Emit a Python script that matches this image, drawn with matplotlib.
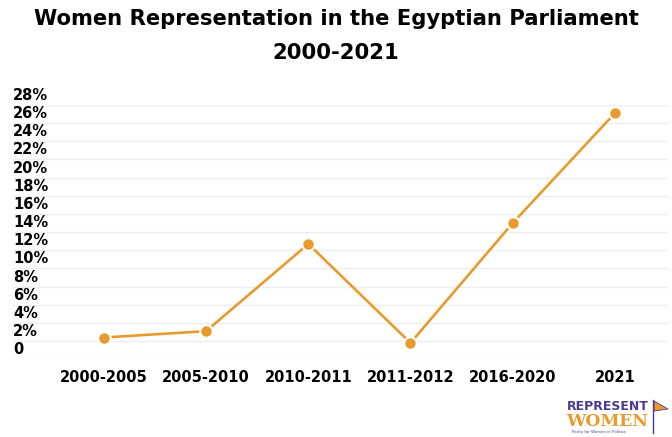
import matplotlib.pyplot as plt
import matplotlib.transforms as mtransforms

PERIODS = ["2000-2005", "2005-2010", "2010-2011", "2011-2012", "2016-2020", "2021"]
WOMEN_SHARE = [2.4, 3.1, 12.7, 1.8, 15.0, 27.1]
Y_TICKS = list(range(0, 30, 2))
Y_LABELS = ["0"] + [f"{v}%" for v in Y_TICKS[1:]]

ORANGE = "#E99A2C"
PURPLE = "#4A3B8F"

plt.rcParams["font.family"] = ["DejaVu Sans"]

fig = plt.figure(figsize=(6.72, 4.37), dpi=100)
ax = fig.add_axes([13 / 672, 1 - 359.3 / 437, 655 / 672, (359.3 - 105) / 437])

x = list(range(len(PERIODS)))
ax.plot(x, WOMEN_SHARE, color=ORANGE, linewidth=1.9, marker="o", markersize=9,
        markerfacecolor=ORANGE, markeredgecolor="white", markeredgewidth=1.5,
        clip_on=False, zorder=3)

ax.set_xlim(-0.89, 5.52)
ax.set_ylim(0, 28)
ax.set_yticks(Y_TICKS)
ax.set_yticklabels([])
ax.tick_params(axis="y", length=0)
ax.grid(axis="y", color="#eeeeee", linewidth=1)
ax.set_axisbelow(True)
for s in ax.spines.values():
    s.set_visible(False)

ax.set_xticks(x)
ax.set_xticklabels(PERIODS, fontsize=10.5, fontweight="bold")
ax.tick_params(axis="x", length=0, pad=8)

# y labels sit just above their grid lines
trans = mtransforms.blended_transform_factory(ax.transAxes, ax.transData)
trans = trans + mtransforms.ScaledTranslation(0, 1.5 / 72, fig.dpi_scale_trans)
for v, lab in zip(Y_TICKS, Y_LABELS):
    ax.text(0, v, lab, transform=trans, ha="left", va="bottom",
            fontsize=10.5, fontweight="bold")

fig.text(0.5, 1 - 19 / 437, "Women Representation in the Egyptian Parliament",
         ha="center", va="center", fontsize=15.2, fontweight="bold")
fig.text(0.5, 1 - 53 / 437, "2000-2021", ha="center", va="center",
         fontsize=15.2, fontweight="bold")

# logo
fig.text(567 / 672, 1 - 406 / 437, "REPRESENT", ha="left", va="center",
         fontsize=9, fontweight="bold", color=PURPLE)
fig.text(566 / 672, 1 - 421 / 437, "WOMEN", ha="left", va="center",
         fontsize=12.3, fontweight="bold", color=ORANGE, family="DejaVu Serif")
fig.text(572 / 672, 1 - 432 / 437, "Parity for Women in Politics", ha="left",
         va="center", fontsize=2.8, color=PURPLE)
fig.add_artist(plt.Line2D([653 / 672, 653 / 672], [1 - 400 / 437, 1 - 433 / 437],
                          color=PURPLE, linewidth=1))
fig.add_artist(plt.Polygon([[654 / 672, 1 - 401 / 437], [668 / 672, 1 - 409 / 437],
                            [654 / 672, 1 - 411 / 437]], closed=True,
                           facecolor=ORANGE, edgecolor=PURPLE, linewidth=0.6))

fig.savefig("out.png", dpi=100)
